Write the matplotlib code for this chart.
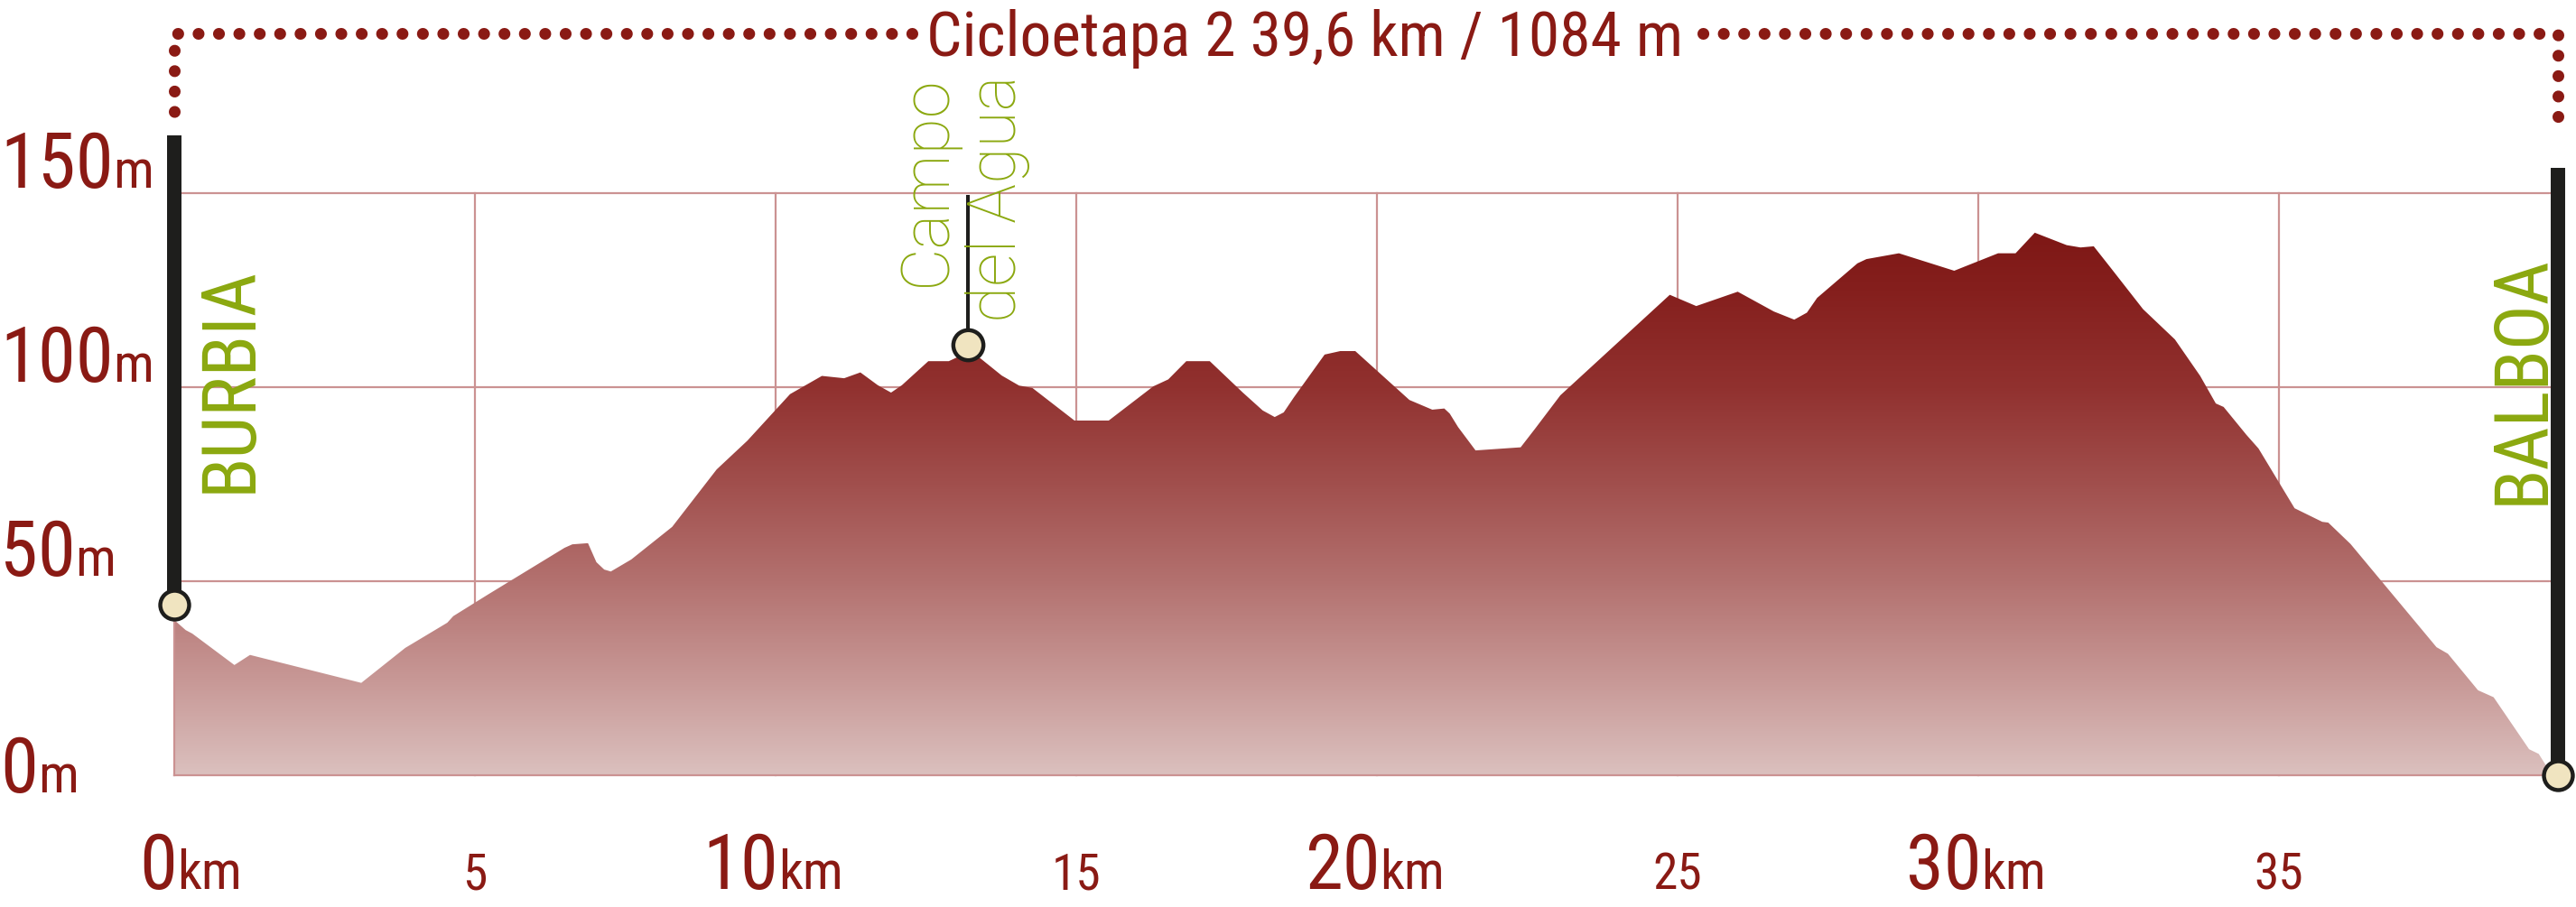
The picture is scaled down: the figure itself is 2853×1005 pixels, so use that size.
import numpy as np
import matplotlib
matplotlib.use("Agg")
import matplotlib.pyplot as plt
from matplotlib import font_manager
from matplotlib.colors import LinearSegmentedColormap

# ---------------- data ----------------
km = [0.0, 0.19, 0.3, 1.0, 1.26, 3.11, 3.84, 4.54, 4.64, 5.21, 6.49, 6.62, 6.88,
      7.02, 7.15, 7.26, 7.6, 8.28, 9.02, 9.53, 10.24, 10.77, 11.14, 11.41, 11.7,
      11.92, 12.1, 12.54, 12.88, 13.2, 13.4, 13.76, 14.05, 14.27, 14.97, 15.54,
      16.28, 16.53, 16.83, 17.22, 17.77, 18.1, 18.3, 18.45, 18.62, 19.13, 19.39,
      19.64, 20.54, 20.92, 21.12, 21.21, 21.35, 21.64, 22.39, 22.63, 23.05, 24.87,
      25.31, 26.0, 26.6, 26.94, 27.15, 27.32, 27.99, 28.14, 28.68, 29.6, 30.33,
      30.62, 30.94, 31.47, 31.7, 31.92, 32.2, 32.74, 33.27, 33.69, 33.95, 34.08,
      34.46, 34.66, 35.26, 35.72, 35.82, 36.19, 37.62, 37.81, 38.31, 38.57, 39.16,
      39.32, 39.45, 39.6]
elev = [40.0, 37.4, 36.5, 28.4, 31.0, 23.8, 32.8, 39.3, 41.0, 46.5, 58.6, 59.5, 59.8,
        54.9, 53.0, 52.5, 55.6, 64.0, 78.8, 86.2, 98.2, 102.9, 102.3, 103.8, 100.5,
        98.6, 100.5, 106.7, 106.7, 109.0, 107.5, 103.0, 100.4, 99.8, 91.4, 91.4,
        100.2, 102.0, 106.7, 106.7, 98.6, 94.0, 92.3, 93.5, 97.4, 108.4, 109.3,
        109.3, 96.7, 94.2, 94.5, 93.2, 89.7, 83.7, 84.5, 89.3, 97.9, 123.8,
        120.9, 124.6, 119.5, 117.4, 119.2, 123.0, 131.9, 133.0, 134.5, 130.0, 134.5,
        134.5, 139.8, 136.6, 136.0, 136.3, 130.8, 120.1, 112.3, 102.9, 95.8, 94.9,
        87.7, 84.2, 68.8, 65.3, 65.1, 59.6, 33.0, 31.3, 21.9, 20.1, 6.7,
        5.5, 2.3, 1.0]

total_km = 39.6
x_major = [0, 10, 20, 30]
x_minor = [5, 15, 25, 35]
y_ticks = [0, 50, 100, 150]
title = "Cicloetapa 2 39,6 km / 1084 m"
start_name, start_elev = "BURBIA", 44
end_name, end_elev = "BALBOA", 0
poi_name, poi_km, poi_elev = "Campo\ndel Agua", 13.2, 111

# ---------------- style ----------------
RED = "#8A1A14"
GREEN = "#8BA80F"
GRID = "#CB9292"
BLACK = "#1E1E1C"
CREAM = "#F0E4C0"

names = {f.name for f in font_manager.fontManager.ttflist}
COND = None
for cand in ["Liberation Sans Narrow", "Roboto Condensed", "Open Sans Condensed",
             "Liberation Sans"]:
    if cand in names:
        COND = cand
        break
if COND is None:
    COND = "DejaVu Sans"
LIGHT = "Roboto" if "Roboto" in names else ("Lato" if "Lato" in names else "DejaVu Sans")

W, H, DPI = 2853, 1005, 100
X0, PXKM, Y0, PXM = 193.0, 66.6, 859.0, 4.3

fig = plt.figure(figsize=(W / DPI, H / DPI), dpi=DPI)
ax = fig.add_axes([0, 0, 1, 1])
ax.set_axis_off()
xlim = (-X0 / PXKM, (W - X0) / PXKM)
ylim = ((Y0 - H) / PXM, Y0 / PXM)

# grid
for v in y_ticks[1:]:
    ax.plot([0, total_km], [v, v], color=GRID, lw=1.6, zorder=1)
for v in x_minor + x_major[1:]:
    ax.plot([v, v], [0, max(y_ticks)], color=GRID, lw=1.6, zorder=1)

# gradient filled profile
cmap = LinearSegmentedColormap.from_list(
    "prof",
    [(0.0, (219/255, 192/255, 190/255)),
     (25/145, (199/255, 151/255, 149/255)),
     (50/145, (179/255, 113/255, 111/255)),
     (75/145, (161/255, 79/255, 77/255)),
     (100/145, (145/255, 49/255, 47/255)),
     (125/145, (133/255, 31/255, 29/255)),
     (1.0, (124/255, 21/255, 19/255))])
poly = ax.fill_between(km, elev, 0, facecolor="none", edgecolor="none", zorder=2)
grad = np.linspace(0, 145, 512).reshape(-1, 1)
im = ax.imshow(grad, extent=[0, total_km, 0, 145], origin="lower", cmap=cmap,
               vmin=0, vmax=145, aspect="auto", zorder=2, interpolation="bilinear")
im.set_clip_path(poly.get_paths()[0], transform=ax.transData)
ax.plot([0, total_km], [0, 0], color=GRID, lw=1.6, zorder=3)
ax.plot([0, 0], [0, elev[0]], color=GRID, lw=1.6, zorder=3)

# end bars and markers
ax.plot([0, 0], [start_elev, (Y0 - 150) / PXM], color=BLACK, lw=11.5,
        solid_capstyle="butt", zorder=4)
ax.plot([total_km + 0.04] * 2, [end_elev, (Y0 - 186) / PXM], color=BLACK, lw=11.5,
        solid_capstyle="butt", zorder=4)
ax.plot([0], [start_elev], "o", ms=23, mfc=CREAM, mec=BLACK, mew=3.2, zorder=5)
ax.plot([total_km + 0.04], [end_elev], "o", ms=23, mfc=CREAM, mec=BLACK, mew=3.2, zorder=5)
ax.plot([poi_km, poi_km], [poi_elev, (Y0 - 218) / PXM], color=BLACK, lw=2.9, zorder=4)
ax.plot([poi_km], [poi_elev], "o", ms=24, mfc=CREAM, mec=BLACK, mew=3.2, zorder=5)

# labels of places
ax.text(0.92, 102, start_name, rotation=90, ha="center", va="center", color=GREEN,
        fontsize=60, family=COND, zorder=6)
ax.text(39.05, 102, end_name, rotation=90, ha="center", va="center", color=GREEN,
        fontsize=60, family=COND, zorder=6)
ax.text(13.1, 148.6, poi_name, rotation=90, ha="center", va="center", color=GREEN,
        fontsize=53, family=LIGHT, fontweight="light", multialignment="right",
        linespacing=1.12, zorder=6)

# y tick labels
for v in y_ticks:
    base = v + 1.5 if v > 0 else v - 4.4
    t = ax.text(-2.9, base, str(v), fontsize=61, color=RED, family=COND,
                ha="left", va="baseline")
    ax.annotate("m", xy=(1, base), xycoords=(t, "data"), xytext=(0, 0),
                textcoords="offset points", fontsize=43, color=RED, family=COND,
                ha="left", va="baseline")

# x tick labels
xbase = (Y0 - 985) / PXM
for v in x_major:
    t = ax.text(v + 0.05, xbase, str(v), fontsize=61, color=RED, family=COND,
                ha="right", va="baseline")
    ax.annotate("km", xy=(1, xbase), xycoords=(t, "data"), xytext=(0, 0),
                textcoords="offset points", fontsize=43, color=RED, family=COND,
                ha="left", va="baseline")
for v in x_minor:
    ax.text(v, xbase, str(v), fontsize=40, color=RED, family=COND,
            ha="center", va="baseline")

# title and dotted frame
ty = (Y0 - 37) / PXM
tt = ax.text(18.8, (Y0 - 62) / PXM, title, fontsize=50, color=RED, family=COND,
             ha="center", va="baseline")
ax.set_xlim(*xlim)
ax.set_ylim(*ylim)
fig.canvas.draw()
bb = tt.get_window_extent()
inv = ax.transData.inverted()
lx = inv.transform((bb.x0 - 16, 0))[0]
rx = inv.transform((bb.x1 + 22, 0))[0]
dot = dict(color=RED, lw=9.4, linestyle=(0, (0.01, 1.72)), dash_capstyle="round",
           solid_capstyle="round", zorder=4)
ax.plot([lx, 0, 0], [ty, ty, (Y0 - 133) / PXM], **dot)
ax.plot([rx, total_km + 0.04, total_km + 0.04], [ty, ty, (Y0 - 138) / PXM], **dot)

ax.set_xlim(*xlim)
ax.set_ylim(*ylim)
fig.savefig("out.png", dpi=DPI)
